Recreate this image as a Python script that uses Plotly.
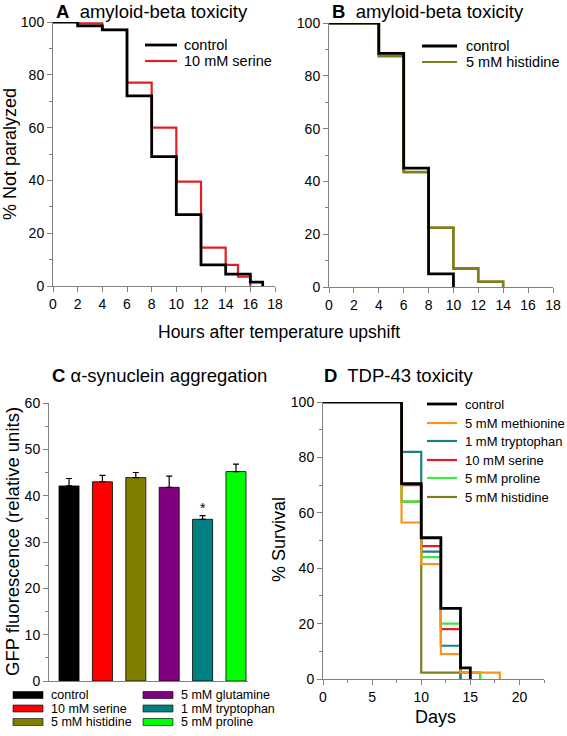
import plotly.graph_objects as go

# figure size in px, used to turn pixel positions into paper fractions
W, H = 567, 736
FONT = '"Liberation Sans", Arial, sans-serif'
AXIS_GREY = "#808080"


def px(x):
    return x / W


def py(y):
    return 1 - y / H


# Panel A - amyloid-beta toxicity, serine
a_ctrl_hours = [0, 2, 4, 6, 8, 10, 12, 14, 16, 17]
a_ctrl_pct = [100, 98.5, 97, 72, 49, 27, 8, 4.5, 1.5, 0]
a_ser_hours = [0, 2, 4, 6, 8, 10, 12, 14, 15, 16]
a_ser_pct = [100, 99.5, 97, 77, 60, 39.5, 14.5, 8, 3.5, 0]

# Panel B - amyloid-beta toxicity, histidine
b_ctrl_hours = [0, 4, 6, 8, 10]
b_ctrl_pct = [100, 88.5, 45, 5, 0]
b_his_hours = [0, 4, 6, 8, 10, 12, 14]
b_his_pct = [100, 87.5, 43.5, 22.5, 7, 2, 0]

# Panel C - alpha-synuclein aggregation
c_names = ["control", "10 mM serine", "5 mM histidine",
           "5 mM glutamine", "1 mM tryptophan", "5 mM proline"]
c_gfp = [42.1, 43.0, 43.9, 41.8, 34.9, 45.2]
c_err = [1.6, 1.4, 1.1, 2.4, 0.8, 1.6]
c_colors = ["#000000", "#ff0000", "#808000", "#800080", "#008080", "#00ff00"]

# Panel D - TDP-43 toxicity
d_names = ["control", "5 mM methionine", "1 mM tryptophan",
           "10 mM serine", "5 mM proline", "5 mM histidine"]
d_days = [
    [0, 8, 10, 12, 14, 15],
    [0, 8, 10, 12, 14, 18],
    [0, 8, 10, 12, 14],
    [0, 8, 10, 12, 14],
    [0, 8, 10, 12, 14, 16],
    [0, 8, 10, 16],
]
d_surv = [
    [100, 70.5, 51, 25.5, 4, 0],
    [100, 56.5, 41.5, 9, 2.3, 0],
    [100, 82, 46, 12, 0],
    [100, 70, 48, 18, 0],
    [100, 64, 44, 20, 2.3, 0],
    [100, 64, 2.3, 0],
]
d_colors = ["#000000", "#f7941d", "#1f7f80", "#e31e24", "#3fe83f", "#7f7f1f"]

fig = go.Figure()


def step(x, y, color, width, xa, ya):
    fig.add_trace(go.Scatter(x=x, y=y, mode="lines", line_shape="hv",
                             line=dict(color=color, width=width),
                             cliponaxis=False, showlegend=False,
                             xaxis=xa, yaxis=ya))


# draw coloured lines first so control ends up on top
step(a_ser_hours, a_ser_pct, "#e31e24", 2.2, "x", "y")
step(a_ctrl_hours, a_ctrl_pct, "#000000", 2.8, "x", "y")
step(b_his_hours, b_his_pct, "#7f7f1f", 2.8, "x2", "y2")
step(b_ctrl_hours, b_ctrl_pct, "#000000", 2.8, "x2", "y2")
for i in range(len(d_names) - 1, -1, -1):
    step(d_days[i], d_surv[i], d_colors[i], 2.8 if i == 0 else 2.2, "x4", "y4")

# bars
fig.add_trace(go.Bar(x=c_names, y=c_gfp, width=0.6,
                     marker=dict(color=c_colors, line=dict(color="#000000", width=0.8)),
                     error_y=dict(type="data", array=c_err, arrayminus=[0] * len(c_err),
                                  symmetric=False, color="#000000", thickness=1.2, width=3),
                     showlegend=False, xaxis="x3", yaxis="y3"))

ax_common = dict(showline=True, linecolor=AXIS_GREY, linewidth=1, ticks="outside",
                 tickcolor=AXIS_GREY, ticklen=5, showgrid=False, zeroline=False,
                 tickfont=dict(size=14, color="#000000"), mirror=False, automargin=False)
minor_y = dict(ticklen=3, ticks="outside", tickcolor=AXIS_GREY)

fig.update_layout(
    width=W, height=H, margin=dict(l=0, r=0, t=0, b=0, pad=0), autosize=False,
    plot_bgcolor="white", paper_bgcolor="white",
    font=dict(family=FONT, color="#000000"),
    xaxis=dict(domain=[px(53), px(275)], range=[0, 18], dtick=2, anchor="y", **ax_common),
    yaxis=dict(domain=[py(286), py(22)], range=[0, 100], dtick=20, anchor="x",
               minor=dict(dtick=10, **minor_y), **ax_common),
    xaxis2=dict(domain=[px(329), px(553)], range=[0, 18], dtick=2, anchor="y2", **ax_common),
    yaxis2=dict(domain=[py(287), py(23)], range=[0, 100], dtick=20, anchor="x2",
                minor=dict(dtick=10, **minor_y), **ax_common),
    xaxis3=dict(domain=[px(49), px(248)], range=[-0.6, 5.36], anchor="y3",
                showline=True, linecolor=AXIS_GREY, showticklabels=False, ticks="",
                showgrid=False, zeroline=False, automargin=False),
    yaxis3=dict(domain=[py(681), py(403)], range=[0, 60], dtick=10, anchor="x3",
                minor=dict(dtick=5, **minor_y), **ax_common),
    xaxis4=dict(domain=[px(323), px(544)], range=[0, 22.5], dtick=5, anchor="y4",
                minor=dict(dtick=2.5, **minor_y), **ax_common),
    yaxis4=dict(domain=[py(679), py(402)], range=[0, 100], dtick=20, anchor="x4",
                minor=dict(dtick=10, **minor_y), **ax_common),
)


def note(text, x, y, size, angle=0, anchor="center"):
    fig.add_annotation(text=text, x=px(x), y=py(y), xref="paper", yref="paper",
                       showarrow=False, textangle=angle, xanchor=anchor, yanchor="middle",
                       borderpad=0, font=dict(size=size, family=FONT, color="#000000"))


# panel titles
note("<b>A</b>  amyloid-beta toxicity", 55, 11, 18.5, anchor="left")
note("<b>B</b>  amyloid-beta toxicity", 331, 11, 18.5, anchor="left")
note("<b>C</b> α-synuclein aggregation", 51, 375, 18.5, anchor="left")
note("<b>D</b>  TDP-43 toxicity", 323, 375, 18.5, anchor="left")

# axis titles
note("% Not paralyzed", 10, 154, 18, angle=-90)
note("Hours after temperature upshift", 279, 332, 17.5)
note("GFP fluorescence (relative units)", 12, 542, 18.5, angle=-90)
note("% Survival", 279, 540, 18, angle=-90)
note("Days", 435, 717, 18)

# significance star
fig.add_annotation(text="*", x=c_names[4], y=37.3, xref="x3", yref="y3",
                   showarrow=False, font=dict(size=14, color="#000000"))


def line_legend(names, colors, x0, x1, xt, ys, size):
    for name, color, y in zip(names, colors, ys):
        fig.add_shape(type="line", xref="paper", yref="paper",
                      x0=px(x0), x1=px(x1), y0=py(y), y1=py(y),
                      line=dict(color=color, width=2.8 if color == "#000000" else 2.2))
        note(name, xt, y, size, anchor="left")


line_legend(["control", "10 mM serine"], ["#000000", "#e31e24"], 145, 177, 183, [45, 61], 14.5)
line_legend(["control", "5 mM histidine"], ["#000000", "#7f7f1f"], 422, 457, 465, [46, 62], 14.5)
line_legend(d_names, d_colors, 427, 457, 464, [404, 423, 441, 460, 478, 497], 13)

# bar legend in two columns
for i, (name, color) in enumerate(zip(c_names, c_colors)):
    col, row = divmod(i, 3)
    bx = 13 + col * 130
    by = 695 + row * 13.5
    fig.add_shape(type="rect", xref="paper", yref="paper",
                  x0=px(bx), x1=px(bx + 30), y0=py(by + 3.5), y1=py(by - 3.5),
                  fillcolor=color, line=dict(color="#000000", width=0.6))
    note(name, bx + 37, by, 12.5, anchor="left")

# page body has a default margin, drop it so the figure sits at 0,0
fig.write_html("out.html", config={"displayModeBar": False},
               post_script="document.body.style.margin='0';")
